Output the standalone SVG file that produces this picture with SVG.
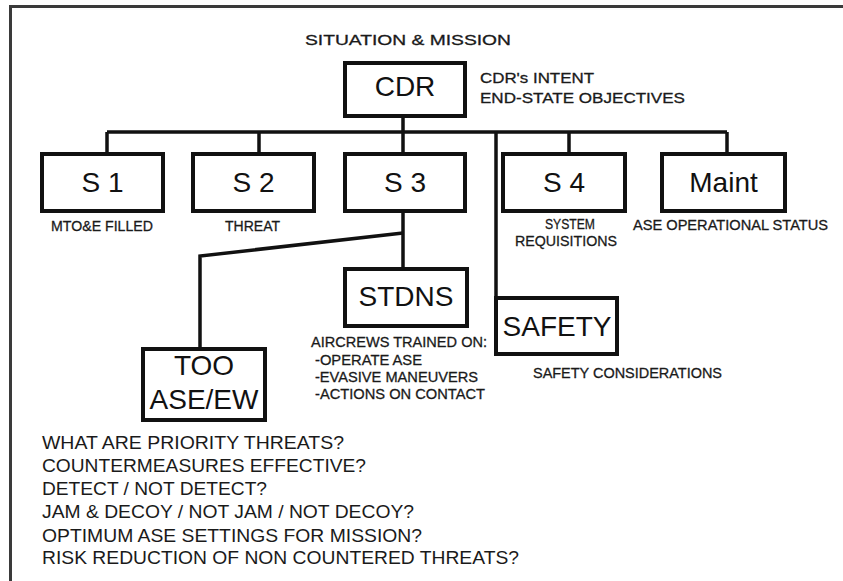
<svg xmlns="http://www.w3.org/2000/svg" width="843" height="581" viewBox="0 0 843 581">
<style>
.box{fill:#fff;stroke:#111;stroke-width:4}
.big{font-family:"Liberation Sans",Arial,sans-serif;font-size:28px;fill:#111;text-anchor:middle}
.sm{font-family:"Liberation Sans",Arial,sans-serif;font-size:15px;fill:#1a1a1a;stroke:#1a1a1a;stroke-width:0.3}
.q{font-family:"Liberation Sans",Arial,sans-serif;font-size:19px;fill:#1a1a1a}
.ln{fill:none;stroke:#111;stroke-width:3.5;stroke-linejoin:miter}
</style>
<rect width="843" height="581" fill="#fff"/>
<g id="frame">
<path d="M10 6.5 H843 M10.5 5 V581" fill="none" stroke="#3a3a3a" stroke-width="3"/>
</g>
<g id="connectors" class="ln">
<path d="M403 116 V132 M107 132 H727 M107 132 V154 M259 132 V154 M403 132 V154 M569 132 V154 M727 132 V154"/>
<path d="M496 132 V298"/>
<path d="M403 211 V269"/>
<path d="M403 233 L200 256 V349"/>
</g>
<g id="title">
<text class="sm" x="305" y="45" font-size="17" textLength="206" lengthAdjust="spacingAndGlyphs">SITUATION &amp; MISSION</text>
</g>
<g id="cdr">
<rect class="box" x="345" y="63" width="120" height="53"/>
<text class="big" x="405" y="96">CDR</text>
<text class="sm" x="480" y="83" font-size="15.5" textLength="114" lengthAdjust="spacingAndGlyphs">CDR's INTENT</text>
<text class="sm" x="480" y="103" font-size="15.5" textLength="205" lengthAdjust="spacingAndGlyphs">END-STATE OBJECTIVES</text>
</g>
<g id="s1">
<rect class="box" x="42" y="154" width="121" height="57"/>
<text class="big" x="102.5" y="192">S 1</text>
<text class="sm" x="51" y="231" textLength="102" lengthAdjust="spacingAndGlyphs">MTO&amp;E FILLED</text>
</g>
<g id="s2">
<rect class="box" x="193" y="154" width="121" height="57"/>
<text class="big" x="253.5" y="192">S 2</text>
<text class="sm" x="225" y="231" textLength="55" lengthAdjust="spacingAndGlyphs">THREAT</text>
</g>
<g id="s3">
<rect class="box" x="345" y="154" width="120" height="57"/>
<text class="big" x="405" y="192">S 3</text>
</g>
<g id="s4">
<rect class="box" x="503" y="154" width="122" height="57"/>
<text class="big" x="564" y="192">S 4</text>
<text class="sm" x="545" y="229" font-size="14" textLength="50" lengthAdjust="spacingAndGlyphs">SYSTEM</text>
<text class="sm" x="515" y="245.5" font-size="14" textLength="102" lengthAdjust="spacingAndGlyphs">REQUISITIONS</text>
</g>
<g id="maint">
<rect class="box" x="662" y="154" width="123" height="57"/>
<text class="big" x="723.5" y="192">Maint</text>
<text class="sm" x="633" y="230" textLength="195" lengthAdjust="spacingAndGlyphs">ASE OPERATIONAL STATUS</text>
</g>
<g id="stdns">
<rect class="box" x="345" y="269" width="122" height="57"/>
<text class="big" x="406" y="306">STDNS</text>
<text class="sm" x="311" y="347" textLength="176" lengthAdjust="spacingAndGlyphs">AIRCREWS TRAINED ON:</text>
<text class="sm" x="315" y="365" textLength="107" lengthAdjust="spacingAndGlyphs">-OPERATE ASE</text>
<text class="sm" x="315" y="382" textLength="163" lengthAdjust="spacingAndGlyphs">-EVASIVE MANEUVERS</text>
<text class="sm" x="315" y="399" textLength="170" lengthAdjust="spacingAndGlyphs">-ACTIONS ON CONTACT</text>
</g>
<g id="safety">
<rect class="box" x="496" y="298" width="121" height="56"/>
<text class="big" x="557" y="336">SAFETY</text>
<text class="sm" x="533" y="378" textLength="189" lengthAdjust="spacingAndGlyphs">SAFETY CONSIDERATIONS</text>
</g>
<g id="too">
<rect class="box" x="143" y="349" width="122" height="71"/>
<text class="big" x="204" y="375">TOO</text>
<text class="big" x="204" y="409">ASE/EW</text>
</g>
<g id="questions">
<text class="q" x="42" y="449" textLength="302" lengthAdjust="spacingAndGlyphs">WHAT ARE PRIORITY THREATS?</text>
<text class="q" x="42" y="472" textLength="324" lengthAdjust="spacingAndGlyphs">COUNTERMEASURES EFFECTIVE?</text>
<text class="q" x="42" y="495" textLength="225" lengthAdjust="spacingAndGlyphs">DETECT / NOT DETECT?</text>
<text class="q" x="42" y="518" textLength="372" lengthAdjust="spacingAndGlyphs">JAM &amp; DECOY / NOT JAM / NOT DECOY?</text>
<text class="q" x="42" y="542" textLength="380" lengthAdjust="spacingAndGlyphs">OPTIMUM ASE SETTINGS FOR MISSION?</text>
<text class="q" x="42" y="564" textLength="477" lengthAdjust="spacingAndGlyphs">RISK REDUCTION OF NON COUNTERED THREATS?</text>
</g>
</svg>
